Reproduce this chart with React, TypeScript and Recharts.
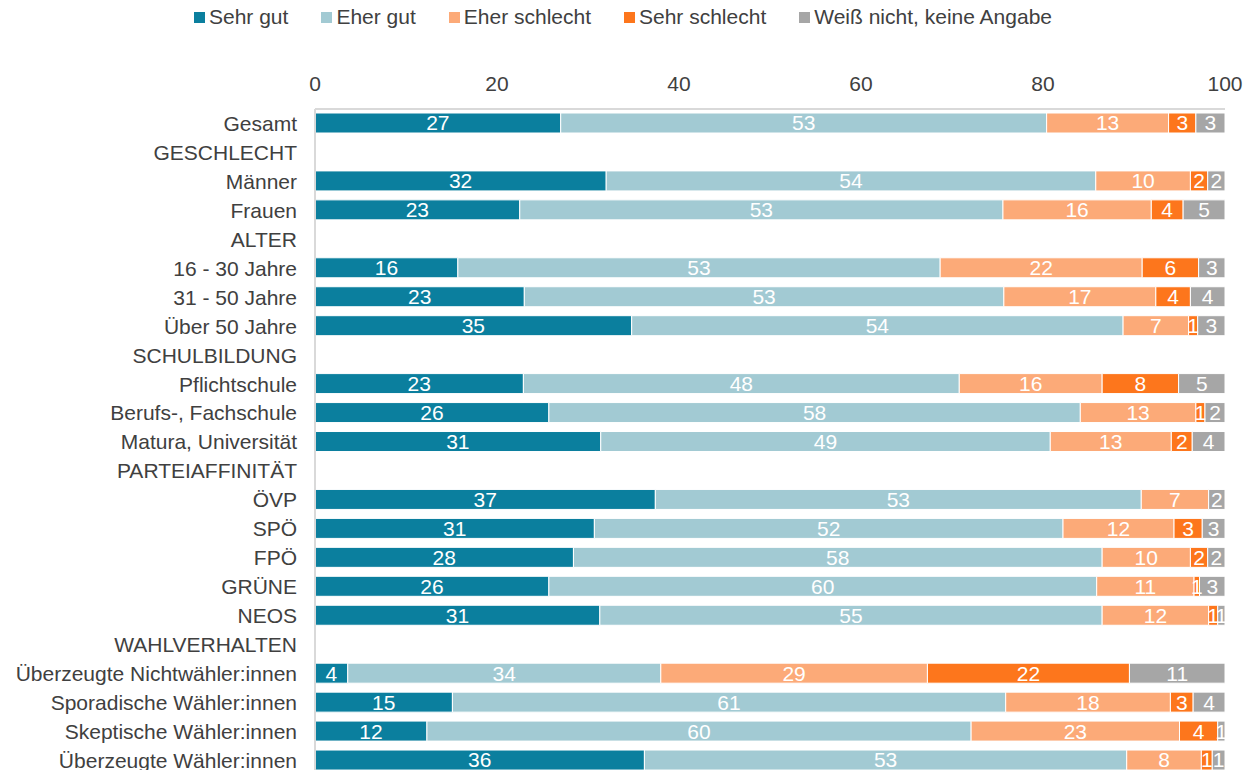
import React from 'react';
import { BarChart, Bar, XAxis, YAxis, LabelList } from 'recharts';

const categories = [
  'Gesamt', 'GESCHLECHT', 'Männer', 'Frauen', 'ALTER', '16 - 30 Jahre', '31 - 50 Jahre', 'Über 50 Jahre',
  'SCHULBILDUNG', 'Pflichtschule', 'Berufs-, Fachschule', 'Matura, Universität', 'PARTEIAFFINITÄT',
  'ÖVP', 'SPÖ', 'FPÖ', 'GRÜNE', 'NEOS', 'WAHLVERHALTEN', 'Überzeugte Nichtwähler:innen',
  'Sporadische Wähler:innen', 'Skeptische Wähler:innen', 'Überzeugte Wähler:innen',
];

const sehrGut = [27.0, null, 32.0, 22.5, null, 15.7, 23.0, 34.8, null, 22.9, 25.7, 31.4, null, 37.4, 30.7, 28.4, 25.7, 31.3, null, 3.6, 15.1, 12.3, 36.2];
const eherGut = [53.4, null, 53.8, 53.1, null, 53.0, 52.7, 54.0, null, 47.9, 58.4, 49.4, null, 53.4, 51.5, 58.1, 60.2, 55.2, null, 34.4, 60.8, 59.8, 53.0];
const eherSchlecht = [13.4, null, 10.4, 16.3, null, 22.2, 16.7, 7.2, null, 15.7, 12.7, 13.3, null, 7.4, 12.2, 9.7, 10.7, 11.7, null, 29.3, 18.1, 22.9, 8.2];
const sehrSchlecht = [3.0, null, 1.9, 3.5, null, 6.2, 3.8, 1.0, null, 8.4, 1.0, 2.3, null, 0, 3.1, 1.9, 0.6, 1.0, null, 22.2, 2.5, 4.2, 1.2];
const weissNicht = [3.2, null, 1.9, 4.6, null, 2.9, 3.8, 3.0, null, 5.1, 2.2, 3.6, null, 1.8, 2.5, 1.9, 2.8, 0.8, null, 10.5, 3.5, 0.8, 1.4];

const xTicks = [0, 20, 40, 60, 80, 100];

const series = [
  { key: 'sehrGut', name: 'Sehr gut', color: '#0B7F9E', values: sehrGut },
  { key: 'eherGut', name: 'Eher gut', color: '#A2CAD3', values: eherGut },
  { key: 'eherSchlecht', name: 'Eher schlecht', color: '#FCAA78', values: eherSchlecht },
  { key: 'sehrSchlecht', name: 'Sehr schlecht', color: '#FD761C', values: sehrSchlecht },
  { key: 'weissNicht', name: 'Weiß nicht, keine Angabe', color: '#A6A6A6', values: weissNicht },
];

const data = categories.map((label, i) => {
  const row: Record<string, string | number | null> = { label };
  series.forEach(s => { row[s.key] = s.values[i]; });
  return row;
});

const FONT = '"Liberation Sans", Arial, sans-serif';
const TEXT = '#404040';
const FS = 21;

const fmt = (v: unknown) => {
  if (v == null) return '';
  const r = Math.round(Number(v));
  return r > 0 ? String(r) : '';
};

export default function App() {
  return (
    <div style={{ position: 'absolute', top: 0, left: 0, width: 1246, height: 770, overflow: 'hidden', background: '#fff', fontFamily: FONT }}>
      <div style={{ position: 'absolute', top: 5, left: 0, width: 1246, display: 'flex', justifyContent: 'center', gap: 33, fontSize: FS, color: TEXT }}>
        {series.map(s => (
          <div key={s.key} style={{ display: 'flex', alignItems: 'center', gap: 4 }}>
            <span style={{ width: 11, height: 11, background: s.color, display: 'inline-block', marginTop: 1 }} />
            <span>{s.name}</span>
          </div>
        ))}
      </div>
      <div style={{ position: 'absolute', top: 0, left: 0 }}>
        <BarChart
          width={1246}
          height={780}
          data={data}
          layout="vertical"
          barSize={20}
          margin={{ top: 79, right: 21, bottom: 5, left: 0 }}
        >
          <XAxis
            type="number"
            orientation="top"
            domain={[0, 100]}
            ticks={xTicks}
            tickLine={false}
            tickSize={0}
            tickMargin={18}
            axisLine={{ stroke: '#D9D9D9', strokeWidth: 2 }}
            tick={{ fill: TEXT, fontSize: FS }}
            height={30}
          />
          <YAxis
            type="category"
            dataKey="label"
            width={315}
            interval={0}
            tickLine={false}
            tickSize={0}
            tickMargin={18}
            axisLine={{ stroke: '#D9D9D9', strokeWidth: 2 }}
            tick={{ fill: TEXT, fontSize: FS }}
          />
          {series.map(s => (
            <Bar key={s.key} dataKey={s.key} name={s.name} stackId="a" fill={s.color} stroke="#fff" strokeWidth={1} isAnimationActive={false}>
              <LabelList dataKey={s.key} position="center" fill="#fff" fontSize={FS} formatter={fmt} />
            </Bar>
          ))}
        </BarChart>
      </div>
    </div>
  );
}
